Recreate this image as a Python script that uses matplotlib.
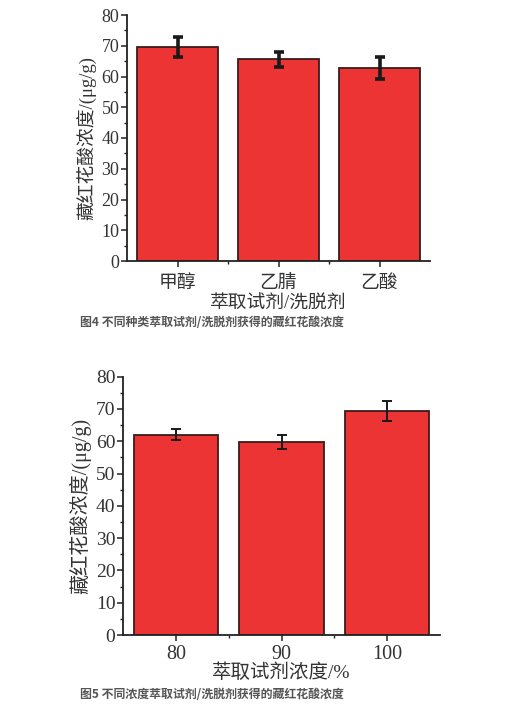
import matplotlib
matplotlib.use("Agg")
import matplotlib.pyplot as plt
from matplotlib.ticker import MultipleLocator, FixedLocator

# Crocetin concentration by extraction / elution solvent
solvents = ["甲醇", "乙腈", "乙酸"]
solvent_conc = [69.7, 65.6, 62.8]
solvent_err = [3.2, 2.35, 3.6]

# Crocetin concentration by extractant concentration (%)
levels = ["80", "90", "100"]
level_conc = [62.0, 59.8, 69.5]
level_err = [1.7, 2.2, 3.1]

ylabel = "藏红花酸浓度/(μg/g)"
xlabel_top = "萃取试剂/洗脱剂"
xlabel_bottom = "萃取试剂浓度/%"
caption_top = "图4 不同种类萃取试剂/洗脱剂获得的藏红花酸浓度"
caption_bottom = "图5 不同浓度萃取试剂/洗脱剂获得的藏红花酸浓度"

W, H = 518, 712
fig = plt.figure(figsize=(W / 100, H / 100), dpi=100)
fig.patch.set_facecolor("white")

SERIF = ["Liberation Serif", "Noto Sans CJK SC"]
CJK = ["Noto Sans CJK SC", "DejaVu Sans"]
BAR = "#ec3434"
EDGE = "#3a1c1c"
AX = "#222222"


def px_axes(left, right, top, bottom):
    return fig.add_axes([left / W, 1 - bottom / H, (right - left) / W, (bottom - top) / H])


def style_axes(ax, tick_size, xtick_size, xtick_family):
    ax.set_ylim(0, 80)
    ax.set_xlim(-0.5, 2.5)
    for s in ("top", "right"):
        ax.spines[s].set_visible(False)
    for s in ("left", "bottom"):
        ax.spines[s].set_color(AX)
        ax.spines[s].set_linewidth(1.3)
    ax.yaxis.set_major_locator(MultipleLocator(10))
    ax.yaxis.set_minor_locator(MultipleLocator(5))
    ax.xaxis.set_minor_locator(FixedLocator([0.5, 1.5]))
    ax.tick_params(axis="both", which="major", direction="out", length=4, width=1.1,
                   color=AX, pad=1.5)
    ax.tick_params(axis="both", which="minor", direction="out", length=2.5, width=1.0,
                   color=AX)
    for lab in ax.get_yticklabels():
        lab.set_fontfamily(SERIF)
        lab.set_fontsize(tick_size)
        lab.set_color("#333333")
    for lab in ax.get_xticklabels():
        lab.set_fontfamily(xtick_family)
        lab.set_fontsize(xtick_size)
        lab.set_color("#333333")


# upper chart
ax1 = px_axes(127, 430, 15, 261)
x1 = range(len(solvents))
ax1.bar(x1, solvent_conc, width=0.8, color=BAR, edgecolor=EDGE, linewidth=1.3, zorder=2)
ax1.errorbar(x1, solvent_conc, yerr=solvent_err, fmt="none", ecolor="#1a1a1a",
             elinewidth=2.6, capsize=3.5, capthick=2.6, zorder=3)
ax1.set_xticks(list(x1))
ax1.set_xticklabels(solvents)
style_axes(ax1, 13, 13.5, CJK)
for lab in ax1.get_xticklabels():
    lab.set_fontweight("light")
ax1.tick_params(axis="x", which="major", pad=4)
ax1.set_ylabel(ylabel, fontfamily=SERIF, fontsize=13.5, color="#333333", labelpad=3)
ax1.set_xlabel(xlabel_top, fontfamily=SERIF, fontsize=13.5, color="#333333", labelpad=2)

# lower chart
ax2 = px_axes(123, 440, 376.7, 635)
x2 = range(len(levels))
ax2.bar(x2, level_conc, width=0.8, color=BAR, edgecolor=EDGE, linewidth=1.3, zorder=2)
ax2.errorbar(x2, level_conc, yerr=level_err, fmt="none", ecolor="#1a1a1a",
             elinewidth=1.4, capsize=3.5, capthick=1.4, zorder=3)
ax2.set_xticks(list(x2))
ax2.set_xticklabels(levels)
style_axes(ax2, 14, 14.5, SERIF)
ax2.tick_params(axis="x", which="major", pad=3)
ax2.set_ylabel(ylabel, fontfamily=SERIF, fontsize=14.5, color="#333333", labelpad=3)
ax2.set_xlabel(xlabel_bottom, fontfamily=SERIF, fontsize=14, color="#333333", labelpad=0)

# captions
fig.text(80 / W, 1 - 323 / H, caption_top, fontfamily=CJK, fontweight="bold",
         fontsize=8.6, color="#555555", va="center", ha="left")
fig.text(80 / W, 1 - 695 / H, caption_bottom, fontfamily=CJK, fontweight="bold",
         fontsize=8.6, color="#555555", va="center", ha="left")

fig.savefig("out.png", dpi=100, facecolor="white")
